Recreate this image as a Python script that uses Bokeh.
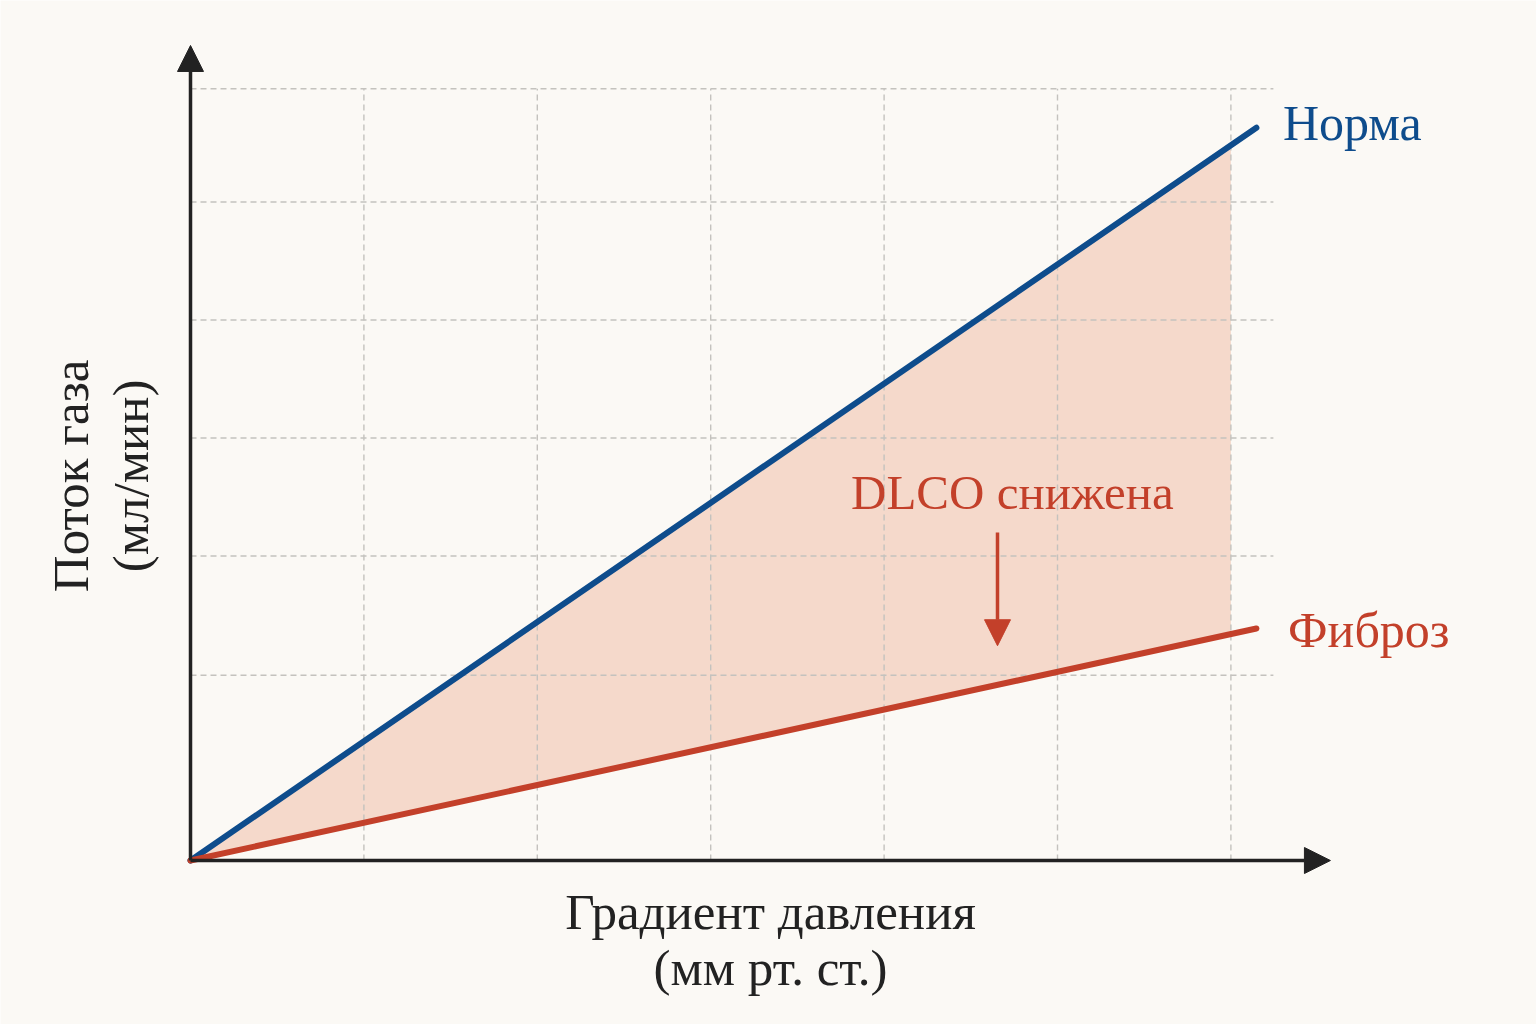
from bokeh.plotting import figure
from bokeh.models import Range1d, Arrow, NormalHead
from bokeh.core.properties import value
from bokeh.embed import file_html
from bokeh.resources import INLINE

# ---- data ----
x_line = [0.0, 6.147]               # pressure gradient (arbitrary units)
norma = [0.0, 6.21]                 # gas flow, normal lung
fibroz = [0.0, 1.966]               # gas flow, fibrosis
x_fill = [0.0, 6.0]                 # shaded band extent
norma_fill = [0.0, 6.06]
fibroz_fill = [0.0, 1.92]
x_grid = [1, 2, 3, 4, 5, 6]
y_grid = [1.57, 2.58, 3.58, 4.58, 5.58, 6.54]

series_labels = ["Норма", "Фиброз"]
annot_text = "DLCO снижена"
x_title = ["Градиент давления", "(мм рт. ст.)"]
y_title = ["Поток газа", "(мл/мин)"]

BG = "#FBF9F5"
BLUE = "#0E4C8C"
RED = "#C3402A"
INK = "#222222"
GRID = "#C4C2BE"
FONT = value("Liberation Serif")

W, H = 1536, 1024
px_x, px_y = 173.4, 118.0
ox, oy = 190.0, 164.0  # origin in figure pixels (from left, from bottom)

p = figure(width=W, height=H, output_backend="svg", toolbar_location=None,
           x_range=Range1d(-ox / px_x, (W - ox) / px_x),
           y_range=Range1d(-oy / px_y, (H - oy) / px_y),
           min_border=0, background_fill_color=BG, border_fill_color=BG,
           outline_line_color=None)
p.axis.visible = False
p.grid.visible = False

# shaded area between the curves (up to x = 6)
p.varea(x=x_fill, y1=fibroz_fill, y2=norma_fill, fill_color="#EFB9A2", fill_alpha=0.5)

# dashed grid
y_top = 6.54
x_right = 6.245
p.multi_line(xs=[[g, g] for g in x_grid], ys=[[0, y_top] for _ in x_grid],
             line_color=GRID, line_width=1.4, line_dash="6 4")
p.multi_line(xs=[[0, x_right] for _ in y_grid], ys=[[g, g] for g in y_grid],
             line_color=GRID, line_width=1.4, line_dash="6 4")

# axes with arrow heads
p.add_layout(Arrow(x_start=0, y_start=0, x_end=0, y_end=6.907,
                   line_color=INK, line_width=3.5,
                   end=NormalHead(size=26, fill_color=INK, line_color=INK, line_width=1)))
p.add_layout(Arrow(x_start=0, y_start=0, x_end=6.574, y_end=0,
                   line_color=INK, line_width=3.5,
                   end=NormalHead(size=26, fill_color=INK, line_color=INK, line_width=1)))

# series lines
p.line(x_line, norma, line_color=BLUE, line_width=6, line_cap="round")
p.line(x_line, fibroz, line_color=RED, line_width=6, line_cap="round")

# series labels
p.text(x=[6.30], y=[6.25], text=[series_labels[0]], text_font=FONT, text_font_size="50px",
       text_color=BLUE, text_align="left", text_baseline="middle")
p.text(x=[6.33], y=[1.95], text=[series_labels[1]], text_font=FONT, text_font_size="50px",
       text_color=RED, text_align="left", text_baseline="middle")

# annotation
p.text(x=[4.74], y=[3.12], text=[annot_text], text_font=FONT, text_font_size="49px",
       text_color=RED, text_align="center", text_baseline="middle")
p.add_layout(Arrow(x_start=4.654, y_start=2.78, x_end=4.654, y_end=1.82,
                   line_color=RED, line_width=3.5,
                   end=NormalHead(size=26, fill_color=RED, line_color=RED, line_width=1)))

# axis titles
p.text(x=[3.345, 3.345], y=[-0.44, -0.915], text=x_title, text_font=FONT,
       text_font_size="51px", text_color=INK, text_align="center", text_baseline="middle")
p.text(x=[-0.692, -0.346], y=[3.26, 3.26], text=y_title, text_font=FONT,
       text_font_size="51px", text_color=INK, text_align="center", text_baseline="middle",
       angle=1.5708)

open("out.html", "w").write(file_html(p, INLINE))
